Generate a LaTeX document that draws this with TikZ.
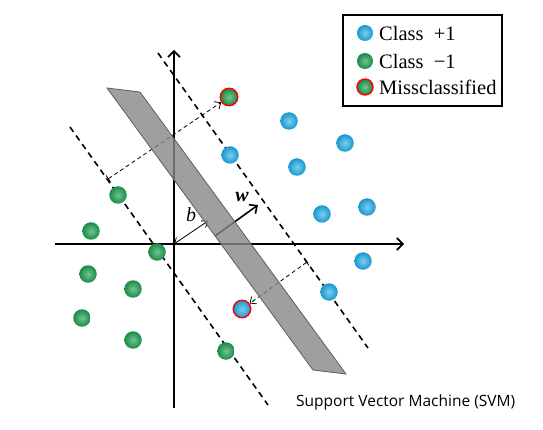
\documentclass[tikz,border=0pt]{standalone}
\usepackage{fontspec}
\setmainfont{Liberation Serif}
\newfontfamily\capfont{Open Sans}
\usetikzlibrary{arrows.meta}
\definecolor{cblue}{RGB}{25,165,225}
\definecolor{cgreen}{RGB}{25,155,75}
\definecolor{slab}{RGB}{135,135,135}
\begin{document}
\begin{tikzpicture}[x=1pt,y=-1pt,
  axis/.style={line width=1.6pt,-{Straight Barb[length=6pt,width=12pt,line width=1.6pt]}},
  margin/.style={line width=1.6pt,dash pattern=on 6pt off 4.5pt},
  dist/.style={line width=0.8pt,dash pattern=on 4pt off 3pt,{Bar[width=8pt,line width=0.8pt]}-{Straight Barb[length=5pt,width=9pt,line width=0.8pt]}},
  dot/.style={circle,minimum size=17.5pt,inner sep=0pt},
  posdot/.style={dot,inner color=cblue!55!white,outer color=cblue!92!black},
  negdot/.style={dot,inner color=cgreen!60!white,outer color=cgreen!90!black},
  miss/.style={draw=red,line width=1.4pt},
  lbl/.style={font=\fontsize{20.5}{22}\selectfont,anchor=west,inner sep=0pt}
]
\useasboundingbox (0,0) rectangle (543,430);
\fill[white] (0,0) rectangle (543,430);

% axes
\coordinate (xa0) at (55,244);
\coordinate (xa1) at (404,244);
\coordinate (ya0) at (174,408);
\coordinate (ya1) at (174,50);
\coordinate (O) at (174,244);
\draw[axis] (xa0) -- (xa1);
\draw[axis] (ya0) -- (ya1);

% margins
\coordinate (u0) at (158,53);
\coordinate (u1) at (368,348);
\coordinate (l0) at (70,127);
\coordinate (l1) at (268,405);
\draw[margin] (u0) -- (u1);
\draw[margin] (l0) -- (l1);

% points
\node[negdot,miss] (m1) at (229,97) {};
\node[posdot,miss] (m2) at (242,309) {};
\node[posdot] (p1) at (289,121) {};
\node[posdot] (p2) at (345,143) {};
\node[posdot] (p3) at (230,155) {};
\node[posdot] (p4) at (297,167) {};
\node[posdot] (p5) at (322,214) {};
\node[posdot] (p6) at (367,207) {};
\node[posdot] (p7) at (363,261) {};
\node[posdot] (p8) at (329,292) {};
\node[negdot] (n1) at (118,195) {};
\node[negdot] (n2) at (91,231) {};
\node[negdot] (n3) at (157,252) {};
\node[negdot] (n4) at (88,274) {};
\node[negdot] (n5) at (133,289) {};
\node[negdot] (n6) at (82,318) {};
\node[negdot] (n7) at (133,340) {};
\node[negdot] (n8) at (226,351) {};

% distance arrows
\coordinate (s1) at (108,179);
\coordinate (s2) at (307,262);
\draw[dist] (s1) -- (m1);
\draw[dist] (s2) -- (m2);

% w and b
\coordinate (w0) at (215,236);
\coordinate (w1) at (258,205);
\coordinate (b1) at (208,221);
\draw[line width=1.6pt,-{Straight Barb[length=6pt,width=11pt,line width=1.6pt]}] (w0) -- (w1);
\draw[line width=0.8pt,{Straight Barb[length=5pt,width=8pt,line width=0.8pt]}-{Straight Barb[length=5pt,width=8pt,line width=0.8pt]}] (O) -- (b1);
\node[font=\fontsize{20}{22}\selectfont\bfseries\itshape,inner sep=0pt] (wl) at (242,197) {w};
\node[font=\fontsize{20}{22}\selectfont\itshape,inner sep=0pt] (bl) at (191,215) {b};

% slab
\filldraw[fill=slab,draw=slab!70!black,line width=0.8pt,fill opacity=0.8]
  (107,88) -- (140,92) -- (346,374) -- (313,370) -- cycle;

% legend
\draw[line width=1.8pt] (343,15) rectangle (502,106);
\node[posdot,minimum size=16pt] (lp) at (365,33) {};
\node[negdot,minimum size=16pt] (ln) at (365,61) {};
\node[negdot,miss,minimum size=16pt] (lm) at (365,87) {};
\node[lbl] (tp) at (379,33) {Class\ \ +1};
\node[lbl] (tn) at (379,61) {Class\ \ −1};
\node[lbl] (tm) at (379,87) {Missclassified};

% caption
\node[font=\capfont\fontsize{15.5}{17}\selectfont,anchor=west,inner sep=0pt] (cap) at (296,402) {Support Vector Machine (SVM)};
\end{tikzpicture}
\end{document}
